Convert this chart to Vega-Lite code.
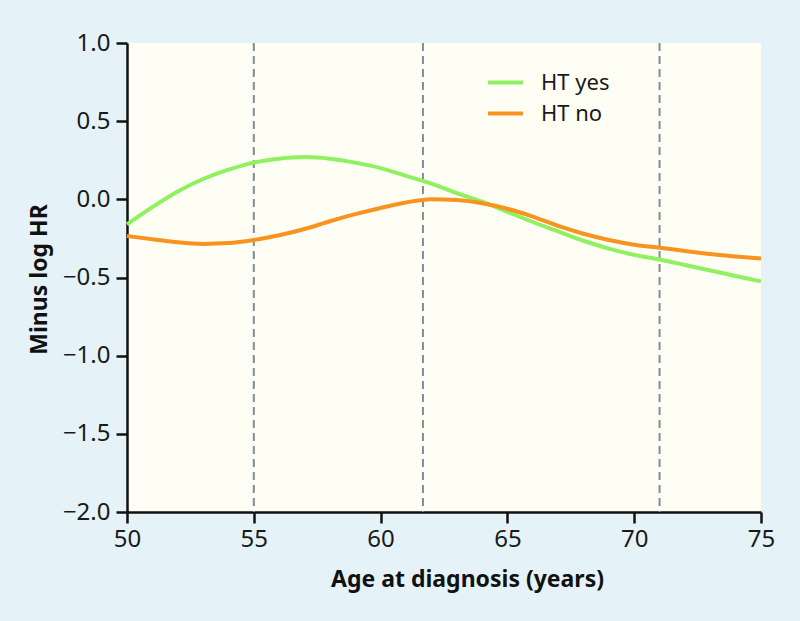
{
  "$schema": "https://vega.github.io/schema/vega-lite/v6.json",
  "width": 634,
  "height": 469,
  "autosize": {"type": "none"},
  "padding": {"left": 127, "top": 43, "right": 39, "bottom": 109},
  "background": "#e5f3f8",
  "config": {
    "view": {"fill": "#fffef4", "stroke": null}
  },
  "datasets": {
    "curves": [
      {"age": 50, "hr": -0.16, "group": "HT yes"},
      {"age": 51, "hr": -0.05, "group": "HT yes"},
      {"age": 52, "hr": 0.05, "group": "HT yes"},
      {"age": 53, "hr": 0.13, "group": "HT yes"},
      {"age": 54, "hr": 0.19, "group": "HT yes"},
      {"age": 55, "hr": 0.235, "group": "HT yes"},
      {"age": 56, "hr": 0.26, "group": "HT yes"},
      {"age": 57, "hr": 0.27, "group": "HT yes"},
      {"age": 58, "hr": 0.26, "group": "HT yes"},
      {"age": 59, "hr": 0.235, "group": "HT yes"},
      {"age": 60, "hr": 0.2, "group": "HT yes"},
      {"age": 61, "hr": 0.15, "group": "HT yes"},
      {"age": 62, "hr": 0.1, "group": "HT yes"},
      {"age": 63, "hr": 0.04, "group": "HT yes"},
      {"age": 64, "hr": -0.015, "group": "HT yes"},
      {"age": 65, "hr": -0.08, "group": "HT yes"},
      {"age": 66, "hr": -0.145, "group": "HT yes"},
      {"age": 67, "hr": -0.205, "group": "HT yes"},
      {"age": 68, "hr": -0.265, "group": "HT yes"},
      {"age": 69, "hr": -0.315, "group": "HT yes"},
      {"age": 70, "hr": -0.355, "group": "HT yes"},
      {"age": 71, "hr": -0.385, "group": "HT yes"},
      {"age": 72, "hr": -0.42, "group": "HT yes"},
      {"age": 73, "hr": -0.455, "group": "HT yes"},
      {"age": 74, "hr": -0.49, "group": "HT yes"},
      {"age": 75, "hr": -0.525, "group": "HT yes"},
      {"age": 50, "hr": -0.235, "group": "HT no"},
      {"age": 51, "hr": -0.255, "group": "HT no"},
      {"age": 52, "hr": -0.275, "group": "HT no"},
      {"age": 53, "hr": -0.285, "group": "HT no"},
      {"age": 54, "hr": -0.28, "group": "HT no"},
      {"age": 55, "hr": -0.26, "group": "HT no"},
      {"age": 56, "hr": -0.23, "group": "HT no"},
      {"age": 57, "hr": -0.19, "group": "HT no"},
      {"age": 58, "hr": -0.14, "group": "HT no"},
      {"age": 59, "hr": -0.095, "group": "HT no"},
      {"age": 60, "hr": -0.055, "group": "HT no"},
      {"age": 61, "hr": -0.02, "group": "HT no"},
      {"age": 62, "hr": 0.0, "group": "HT no"},
      {"age": 63, "hr": -0.005, "group": "HT no"},
      {"age": 64, "hr": -0.025, "group": "HT no"},
      {"age": 65, "hr": -0.06, "group": "HT no"},
      {"age": 66, "hr": -0.11, "group": "HT no"},
      {"age": 67, "hr": -0.17, "group": "HT no"},
      {"age": 68, "hr": -0.22, "group": "HT no"},
      {"age": 69, "hr": -0.26, "group": "HT no"},
      {"age": 70, "hr": -0.29, "group": "HT no"},
      {"age": 71, "hr": -0.31, "group": "HT no"},
      {"age": 72, "hr": -0.33, "group": "HT no"},
      {"age": 73, "hr": -0.35, "group": "HT no"},
      {"age": 74, "hr": -0.365, "group": "HT no"},
      {"age": 75, "hr": -0.378, "group": "HT no"}
    ],
    "cuts": [
      {"age": 55},
      {"age": 61.67},
      {"age": 71}
    ]
  },
  "layer": [
    {
      "data": {"name": "cuts"},
      "mark": {"type": "rule", "color": "#7d8f97", "strokeWidth": 2, "strokeDash": [8, 5]},
      "encoding": {
        "x": {"field": "age", "type": "quantitative", "scale": {"domain": [50, 75]}}
      }
    },
    {
      "data": {"name": "curves"},
      "mark": {"type": "line", "strokeWidth": 4, "interpolate": "monotone"},
      "encoding": {
        "x": {
          "field": "age",
          "type": "quantitative",
          "scale": {"domain": [50, 75], "nice": false, "zero": false},
          "axis": {
            "values": [50, 55, 60, 65, 70, 75],
            "grid": false,
            "domainColor": "#111111",
            "domainWidth": 2.5,
            "tickColor": "#111111",
            "tickWidth": 2.5,
            "tickSize": 11,
            "labelFont": "Noto Sans",
            "labelFontSize": 24,
            "labelColor": "#1a1a1a",
            "labelPadding": 4,
            "labelFlush": false,
            "labelOverlap": false,
            "title": "Age at diagnosis (years)",
            "titleFont": "Noto Sans",
            "titleFontSize": 23,
            "titleFontWeight": "bold",
            "titleColor": "#111111",
            "titleX": 340,
            "titleY": 74,
            "titleBaseline": "alphabetic",
            "titleAlign": "center",
            "titleAnchor": null
          }
        },
        "y": {
          "field": "hr",
          "type": "quantitative",
          "scale": {"domain": [-2, 1], "nice": false, "zero": false},
          "axis": {
            "values": [-2, -1.5, -1, -0.5, 0, 0.5, 1],
            "format": ".1f",
            "grid": false,
            "domainColor": "#111111",
            "domainWidth": 2.5,
            "tickColor": "#111111",
            "tickWidth": 2.5,
            "tickSize": 11,
            "labelFont": "Noto Sans",
            "labelFontSize": 24,
            "labelColor": "#1a1a1a",
            "labelPadding": 6,
            "labelFlush": false,
            "labelOverlap": false,
            "title": "Minus log HR",
            "titleFont": "Noto Sans",
            "titleFontSize": 23,
            "titleFontWeight": "bold",
            "titleColor": "#111111",
            "titleAngle": -90,
            "titleX": -88,
            "titleY": 236,
            "titleBaseline": "middle",
            "titleAlign": "center"
          }
        },
        "color": {
          "field": "group",
          "type": "nominal",
          "sort": ["HT yes", "HT no"],
          "scale": {"domain": ["HT yes", "HT no"], "range": ["#8ff060", "#f7931e"]},
          "legend": {
            "title": null,
            "orient": "none",
            "legendX": 359,
            "legendY": 20,
            "symbolType": "stroke",
            "symbolSize": 1225,
            "symbolStrokeWidth": 4,
            "labelFontSize": 22,
            "labelFont": "Noto Sans",
            "labelColor": "#1a1a1a",
            "labelOffset": 16,
            "rowPadding": 0,
            "fillColor": null
          }
        }
      }
    }
  ]
}
